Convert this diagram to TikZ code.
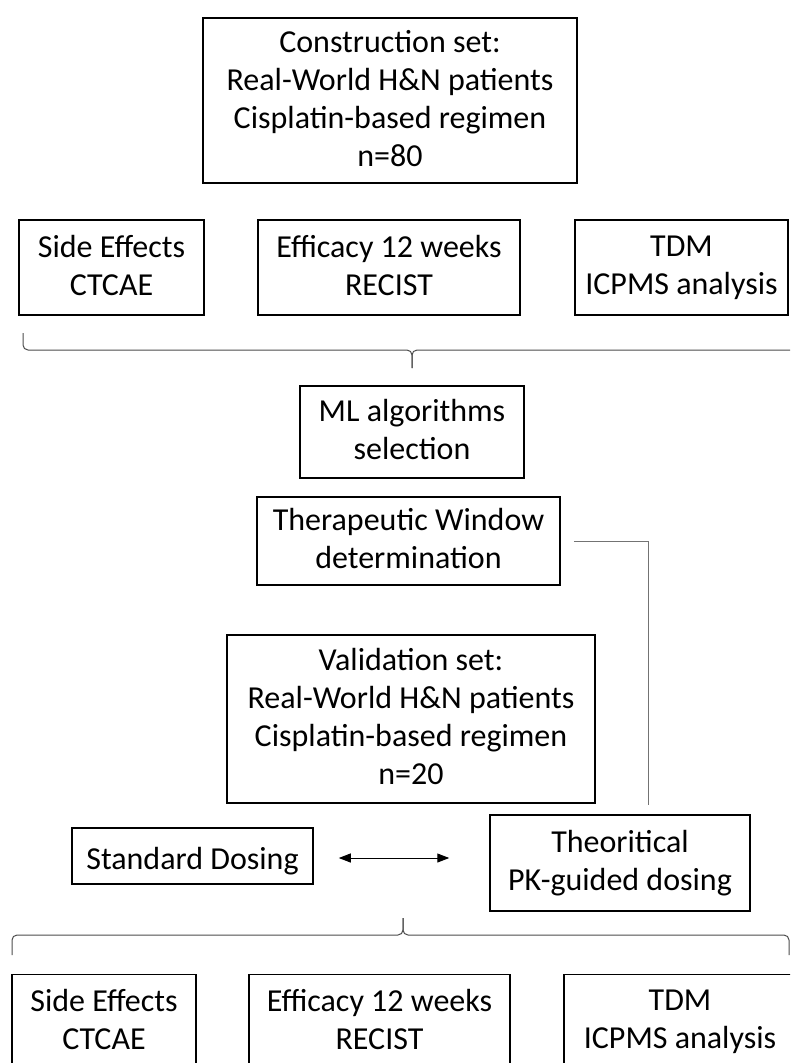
\documentclass[tikz,border=0pt]{standalone}
\usepackage{fontspec}
\setmainfont{Carlito}
\usetikzlibrary{arrows.meta}

\newcommand\boxstrut{\rule[-5pt]{0pt}{38pt}}

\tikzset{
  stepbox/.style={draw, line width=1.5pt, align=center, inner sep=0pt,
    font=\fontsize{32}{38}\selectfont,
    execute at begin node=\boxstrut, execute at end node=\boxstrut},
  link/.style={draw=black!55, line width=1pt},
  brc/.style={draw=black!70, line width=1pt, rounded corners=5pt},
  dbl/.style={{Triangle[length=12pt,width=9pt]}-{Triangle[length=12pt,width=9pt]}, line width=1pt}
}

\begin{document}
\begin{tikzpicture}[x=1pt, y=-1pt]
\path[use as bounding box, clip] (0,0) rectangle (790,1063);

% Construction
\node[stepbox, minimum width=374pt, minimum height=165pt] (cons) at (390,100.5)
  {Construction set:\\Real-World H\&N patients\\Cisplatin-based regimen\\n=80};

\def\rowa{267.5}
\node[stepbox, minimum width=185pt, minimum height=95pt] (sidea) at (111.5,\rowa) {Side Effects\\CTCAE};
\node[stepbox, minimum width=262pt, minimum height=95pt] (effa) at (389,\rowa) {Efficacy 12 weeks\\RECIST};
\node[stepbox, minimum width=213pt, minimum height=95pt] (tdma) at (681.5,\rowa) {TDM\\ICPMS analysis};

% brace under first row
\coordinate (bal) at (23,333);
\coordinate (bam) at (412,350);
\coordinate (batip) at (412,368);
\coordinate (bar) at (801,333);
\draw[brc] (bal) |- (bam) -- (batip);
\draw[brc] (batip) -- (bam) -| (bar);

% Model
\node[stepbox, minimum width=224pt, minimum height=92pt] (ml) at (412,432) {ML algorithms\\selection};
\node[stepbox, minimum width=303pt, minimum height=88pt] (ther) at (408.5,541) {Therapeutic Window\\determination};

\coordinate (therend) at (648,805);
\draw[link, shorten <=13pt] (ther.east) -| (therend);

% Validation
\node[stepbox, minimum width=368pt, minimum height=168pt] (val) at (411,719)
  {Validation set:\\Real-World H\&N patients\\Cisplatin-based regimen\\n=20};

\node[stepbox, minimum width=241pt, minimum height=56pt] (std) at (192.5,856) {Standard Dosing};
\node[stepbox, minimum width=260pt, minimum height=96pt] (theo) at (620,863) {Theoritical\\PK-guided dosing};

\draw[dbl, shorten <=25pt, shorten >=40pt] ([yshift=-2pt]std.east) -- ([yshift=-2pt]std.east -| theo.west);

% brace over last row
\coordinate (bbl) at (12,955);
\coordinate (bbm) at (403,935);
\coordinate (bbtip) at (403,918);
\coordinate (bbr) at (789,955);
\draw[brc] (bbl) |- (bbm) -- (bbtip);
\draw[brc] (bbtip) -- (bbm) -| (bbr);

\def\rowb{1022}
\node[stepbox, minimum width=184pt, minimum height=95pt] (sideb) at (104,\rowb) {Side Effects\\CTCAE};
\node[stepbox, minimum width=261pt, minimum height=95pt] (effb) at (379.5,\rowb) {Efficacy 12 weeks\\RECIST};
\node[stepbox, minimum width=232pt, minimum height=95pt] (tdmb) at (680,\rowb) {TDM\\ICPMS analysis};

\end{tikzpicture}
\end{document}
